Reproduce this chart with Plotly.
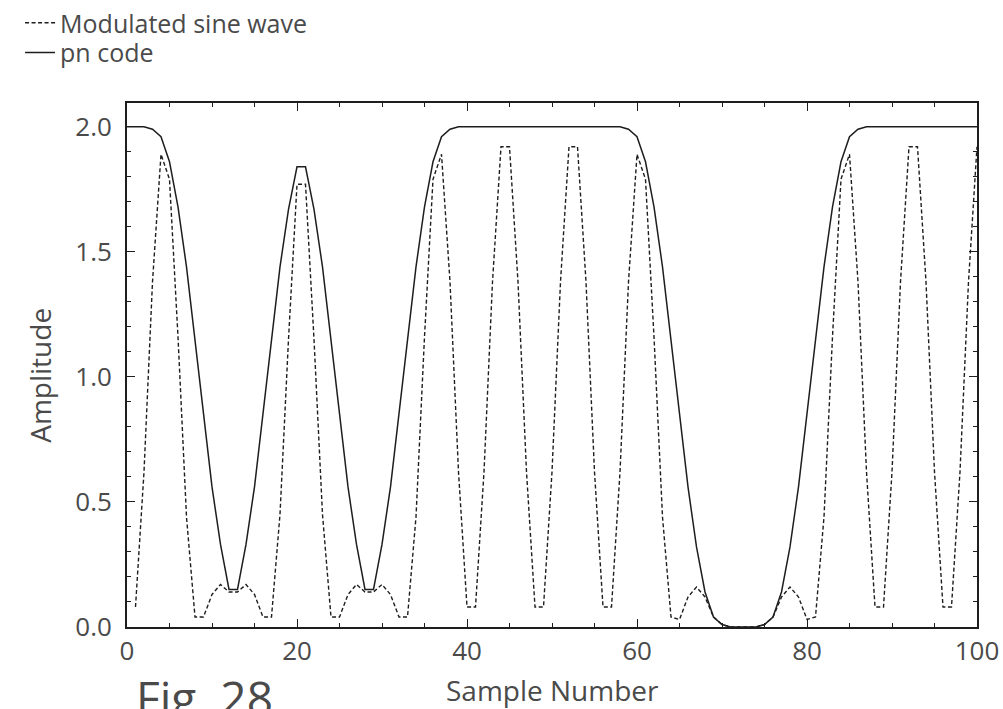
import plotly.graph_objects as go

# Sample index for each series
pn_x = list(range(0, 101))
sine_x = list(range(1, 101))

# Filtered pn code (solid line), one value per sample 0..100
pn_code = [
    2.00, 2.00, 2.00, 1.99, 1.96, 1.86, 1.68, 1.44, 1.15, 0.85,
    0.56, 0.33, 0.15, 0.15, 0.33, 0.56, 0.85, 1.15, 1.44, 1.67,
    1.84, 1.84, 1.67, 1.44, 1.15, 0.85, 0.56, 0.33, 0.15, 0.15,
    0.33, 0.56, 0.85, 1.15, 1.44, 1.68, 1.86, 1.96, 1.99, 2.00,
    2.00, 2.00, 2.00, 2.00, 2.00, 2.00, 2.00, 2.00, 2.00, 2.00,
    2.00, 2.00, 2.00, 2.00, 2.00, 2.00, 2.00, 2.00, 2.00, 1.99,
    1.96, 1.86, 1.68, 1.44, 1.15, 0.85, 0.56, 0.32, 0.14, 0.04,
    0.01, 0.00, 0.00, 0.00, 0.00, 0.01, 0.04, 0.14, 0.32, 0.56,
    0.85, 1.15, 1.44, 1.68, 1.86, 1.96, 1.99, 2.00, 2.00, 2.00,
    2.00, 2.00, 2.00, 2.00, 2.00, 2.00, 2.00, 2.00, 2.00, 2.00,
    2.00,
]

# Modulated sine wave (dashed line), one value per sample 1..100
modulated_sine = [
    0.08, 0.62, 1.38, 1.89, 1.79, 1.16, 0.44, 0.04, 0.04, 0.13,
    0.17, 0.14, 0.14, 0.17, 0.13, 0.04, 0.04, 0.45, 1.15, 1.77,
    1.77, 1.15, 0.45, 0.04, 0.04, 0.13, 0.17, 0.14, 0.14, 0.17,
    0.13, 0.04, 0.04, 0.44, 1.16, 1.79, 1.89, 1.38, 0.62, 0.08,
    0.08, 0.62, 1.38, 1.92, 1.92, 1.38, 0.62, 0.08, 0.08, 0.62,
    1.38, 1.92, 1.92, 1.38, 0.62, 0.08, 0.08, 0.62, 1.38, 1.89,
    1.79, 1.16, 0.44, 0.04, 0.03, 0.12, 0.16, 0.12, 0.04, 0.01,
    0.00, 0.00, 0.00, 0.00, 0.01, 0.04, 0.12, 0.16, 0.12, 0.03,
    0.04, 0.44, 1.16, 1.79, 1.89, 1.38, 0.62, 0.08, 0.08, 0.62,
    1.38, 1.92, 1.92, 1.38, 0.62, 0.08, 0.08, 0.62, 1.38, 1.92,
]

x_ticks = [0, 20, 40, 60, 80, 100]
y_ticks = [0.0, 0.5, 1.0, 1.5, 2.0]
y_tick_labels = ["0.0", "0.5", "1.0", "1.5", "2.0"]

INK = "#1e1e1e"
TEXT = "#4a4a4a"
FONT = "Open Sans"

fig = go.Figure()

fig.add_trace(go.Scatter(
    x=sine_x, y=modulated_sine, mode="lines", name="Modulated sine wave",
    line=dict(color=INK, width=1.4, dash="4px,2.5px"), legend="legend",
))
fig.add_trace(go.Scatter(
    x=pn_x, y=pn_code, mode="lines", name="pn code",
    line=dict(color=INK, width=1.5), legend="legend2",
))

axis_common = dict(
    showline=True, linecolor=INK, linewidth=1.8, mirror="ticks",
    ticks="inside", tickcolor=INK, tickwidth=1.2, ticklen=8,
    showgrid=False, zeroline=False,
    tickfont=dict(family=FONT, size=26, color=TEXT),
)

fig.update_xaxes(
    **axis_common,
    range=[0, 100], tickvals=x_ticks, ticklabelstandoff=0,
    minor=dict(ticks="inside", dtick=5, ticklen=4, tickcolor=INK, tickwidth=1.2, showgrid=False),
)
fig.update_yaxes(
    **axis_common,
    range=[0, 2.095], tickvals=y_ticks, ticktext=y_tick_labels, ticklabelstandoff=8,
    minor=dict(ticks="inside", dtick=0.1, ticklen=4, tickcolor=INK, tickwidth=1.2, showgrid=False),
)

# Axis titles and figure caption
fig.add_annotation(
    text="Sample Number", xref="paper", yref="paper", x=0.5, y=-0.121,
    xanchor="center", yanchor="middle", showarrow=False,
    font=dict(family=FONT, size=28, color=TEXT),
)
fig.add_annotation(
    text="Amplitude", xref="paper", yref="paper", x=-0.102, y=0.48,
    xanchor="center", yanchor="middle", textangle=-90, showarrow=False,
    font=dict(family=FONT, size=28, color=TEXT),
)
fig.add_annotation(
    text="Fig. 28", xref="paper", yref="paper", x=0.008, y=-0.07,
    xanchor="left", yanchor="top", showarrow=False,
    font=dict(family=FONT, size=46, color=TEXT),
)

legend_style = dict(
    xref="container", yref="container", x=0.02,
    xanchor="left", yanchor="top", bgcolor="rgba(0,0,0,0)",
    font=dict(family=FONT, size=25, color=TEXT),
    itemwidth=30,
)

fig.update_layout(
    width=1003, height=709,
    margin=dict(l=127, r=26, t=103, b=82, autoexpand=False),
    paper_bgcolor="white", plot_bgcolor="white",
    showlegend=True,
    legend=dict(**legend_style, y=1.0),
    legend2=dict(**legend_style, y=0.958),
)

fig.write_html("out.html")
